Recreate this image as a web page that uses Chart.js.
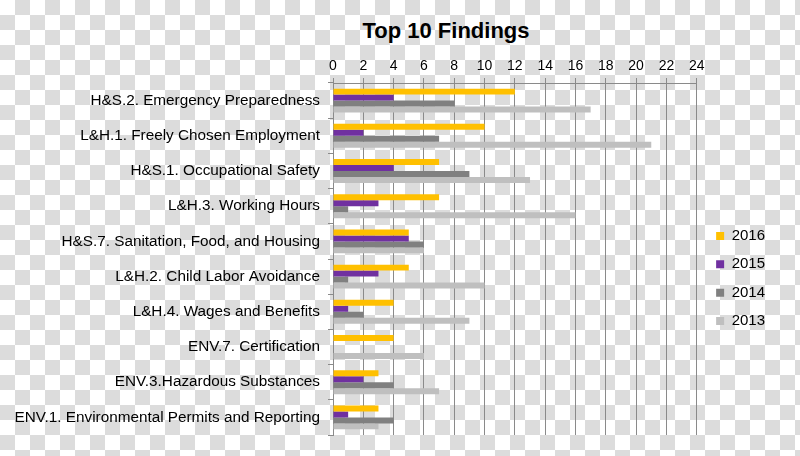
<!DOCTYPE html>
<html>
<head>
<meta charset="utf-8">
<script src="https://cdn.jsdelivr.net/npm/chart.js@4.4.1/dist/chart.umd.min.js"></script>
<style>
html,body{margin:0;padding:0;}
body{width:800px;height:456px;overflow:hidden;position:relative;
  background-color:#ffffff;
  background-image:repeating-conic-gradient(#dcdcdc 0% 25%, #ffffff 0% 50%);
  background-size:30px 30px;background-position:0 0;}
#title{position:absolute;left:296px;width:300px;top:18px;line-height:22px;text-align:center;
  font:bold 22px "Liberation Sans",Arial,sans-serif;color:#000;}
#c{position:absolute;left:0;top:0;display:block;}
</style>
</head>
<body>
<div id="title">Top 10 Findings</div>
<canvas id="c" width="800" height="456"></canvas>
<script>
const categories = [
  "H&S.2. Emergency Preparedness",
  "L&H.1. Freely Chosen Employment",
  "H&S.1. Occupational Safety",
  "L&H.3. Working Hours",
  "H&S.7. Sanitation, Food, and Housing",
  "L&H.2. Child Labor Avoidance",
  "L&H.4. Wages and Benefits",
  "ENV.7. Certification",
  "ENV.3.Hazardous Substances",
  "ENV.1. Environmental Permits and Reporting"
];
const seriesNames = ["2016", "2015", "2014", "2013"];
const values2016 = [12, 10, 7, 7, 5, 5, 4, 4, 3, 3];
const values2015 = [4, 2, 4, 3, 5, 3, 1, 0, 2, 1];
const values2014 = [8, 7, 9, 1, 6, 1, 2, 0, 4, 4];
const values2013 = [17, 21, 13, 16, 6, 10, 9, 6, 7, 3];
const xTickMin = 0, xTickMax = 24, xTickStep = 2;

const colors = ["#FFC000", "#7030A0", "#808080", "#BFBFBF"];
const allValues = [values2016, values2015, values2014, values2013];

const FONT = '"Liberation Sans", Arial, sans-serif';

const legendShift = {
  id: 'legendShift',
  afterLayout(chart) {
    const l = chart.legend;
    if (!l) return;
    l.left += 6; l.right += 6;
    l.top += 61; l.bottom += 61;
  }
};

new Chart(document.getElementById('c'), {
  type: 'bar',
  data: {
    labels: categories,
    datasets: seriesNames.map((n, i) => ({
      label: n,
      data: allValues[i],
      backgroundColor: colors[i],
      borderWidth: 0
    }))
  },
  options: {
    indexAxis: 'y',
    responsive: false,
    animation: false,
    layout: { padding: { left: 0, right: 31, top: 0, bottom: 21 } },
    datasets: { bar: { categoryPercentage: 0.68, barPercentage: 1 } },
    scales: {
      x: {
        position: 'top',
        min: xTickMin, max: xTickMax,
        ticks: { stepSize: xTickStep, color: '#000', font: { family: FONT, size: 14 }, padding: 3 },
        grid: { color: '#8a8a8a', lineWidth: 1, tickLength: 5 },
        border: { color: '#8a8a8a', width: 1 },
        afterFit(s) { s.height = 83; }
      },
      y: {
        ticks: { color: '#000', font: { family: FONT, size: 15.3 }, padding: 8, autoSkip: false },
        grid: { drawOnChartArea: false, tickLength: 5, color: '#8a8a8a', offset: true },
        border: { color: '#8a8a8a', width: 1 },
        afterFit(s) { s.width = 333; }
      }
    },
    plugins: {
      legend: {
        position: 'right',
        labels: { boxWidth: 8, boxHeight: 8, padding: 13.4, color: '#000', font: { family: FONT, size: 15 } }
      },
      tooltip: { enabled: false }
    }
  },
  plugins: [legendShift]
});
</script>
</body>
</html>
